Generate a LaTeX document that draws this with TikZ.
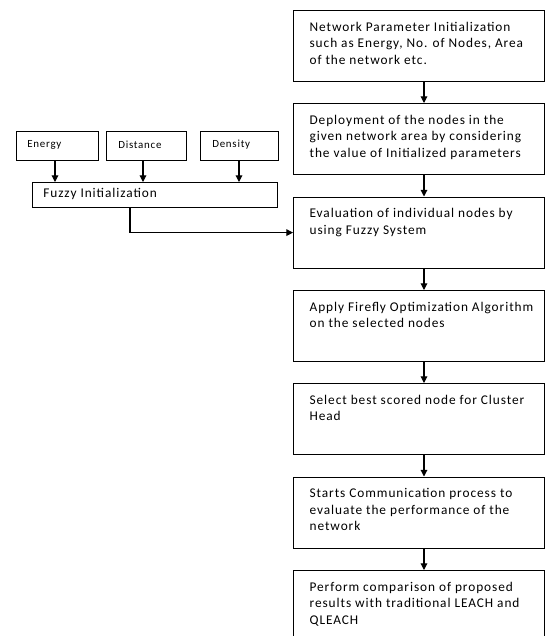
\documentclass[tikz,border=0pt]{standalone}
\usepackage{fontspec}
\setmainfont{Carlito}[LetterSpace=7]
\usetikzlibrary{arrows.meta}
\tikzset{
  every picture/.style={x=0.75pt,y=-0.75pt},
  bigbox/.style={draw, line width=0.9pt, anchor=north west, inner sep=0pt,
    minimum width=188.25pt, minimum height=53.25pt},
  smallbox/.style={draw, line width=0.9pt, anchor=north west, inner sep=0pt,
    minimum height=21.75pt},
  smalltext/.style={anchor=west, inner sep=0pt, font=\fontsize{8.2}{10}\selectfont},
  arr/.style={line width=0.8pt, -{Triangle[length=5pt,width=5pt]}}
}
\newcommand{\bxtext}[1]{\parbox[c][53.25pt][t]{188.25pt}{\fontsize{10}{12.5}\selectfont\raggedright\leftskip=12pt\vspace*{8.5pt}#1}}
\begin{document}
\begin{tikzpicture}
\useasboundingbox (0,0) rectangle (545,636);
\clip (0,0) rectangle (545,636);
% right column
\node[bigbox] (b1) at (293,10) {\bxtext{Network Parameter Initialization\\such as Energy, No. of Nodes, Area\\of the network etc.}};
\node[bigbox] (b2) at (293,103) {\bxtext{Deployment of the nodes in the\\given network area by considering\\the value of Initialized parameters}};
\node[bigbox] (b3) at (293,196.5) {\bxtext{Evaluation of individual nodes by\\using Fuzzy System}};
\node[bigbox] (b4) at (293,290) {\bxtext{Apply Firefly Optimization Algorithm\\on the selected nodes}};
\node[bigbox] (b5) at (293,383) {\bxtext{Select best scored node for Cluster\\Head}};
\node[bigbox] (b6) at (293,476.5) {\bxtext{Starts Communication process to\\evaluate the performance of the\\network}};
\node[bigbox] (b7) at (293,570) {\bxtext{Perform comparison of proposed\\results with traditional LEACH and\\QLEACH}};
\foreach \a/\b in {b1/b2,b2/b3,b3/b4,b4/b5,b5/b6,b6/b7}
  \draw[arr] ([xshift=98.25pt]\a.south west) -- ([xshift=98.25pt]\b.north west);
% left part
\node[smallbox, minimum width=61.5pt] (en) at (16,131) {};
\node[smalltext] (ent) at ([xshift=8.25pt,yshift=1pt]en.west) {Energy};
\node[smallbox, minimum width=60pt] (di) at (106,131) {};
\node[smalltext] (dit) at ([xshift=9pt,yshift=1pt]di.west) {Distance};
\node[smallbox, minimum width=58.5pt] (de) at (200,131) {};
\node[smalltext] (det) at ([xshift=9pt,yshift=1pt]de.west) {Density};
\node[draw, line width=0.9pt, anchor=north west, inner sep=0pt, minimum width=183.75pt, minimum height=18.75pt] (fz) at (32,182) {};
\node[anchor=west, inner sep=0pt, font=\fontsize{10}{12}\selectfont] (fzt) at ([xshift=8.25pt,yshift=0.5pt]fz.west) {Fuzzy Initialization};
\draw[arr] ([xshift=29.25pt]en.south west) -- ([xshift=29.25pt]en.south west |- fz.north);
\draw[arr] ([xshift=27.75pt]di.south west) -- ([xshift=27.75pt]di.south west |- fz.north);
\draw[arr] ([xshift=29.25pt]de.south west) -- ([xshift=29.25pt]de.south west |- fz.north);
\draw[arr] ([xshift=73.5pt]fz.south west) |- (b3.west);
\end{tikzpicture}
\end{document}
